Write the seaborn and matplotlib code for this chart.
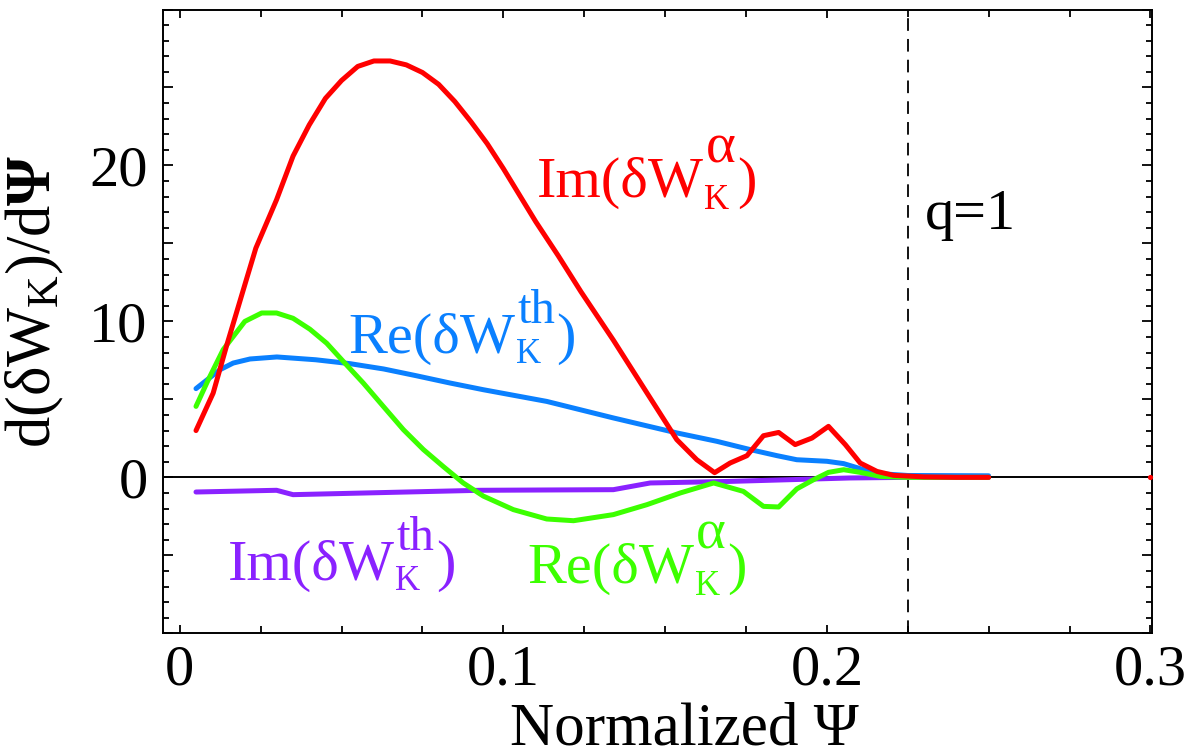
import numpy as np
import pandas as pd
import matplotlib
matplotlib.use("Agg")
import matplotlib.pyplot as plt
from matplotlib.ticker import MultipleLocator, FuncFormatter
import seaborn as sns

# ---------------- data ----------------
im_alpha_x = [0.005, 0.0103, 0.0144, 0.0206, 0.0235, 0.0299, 0.035, 0.040, 0.045, 0.050,
              0.055, 0.060, 0.065, 0.070, 0.075, 0.080, 0.085, 0.090, 0.095, 0.100,
              0.105, 0.110, 0.117, 0.124, 0.134, 0.1444, 0.1536, 0.1598, 0.1653, 0.1701,
              0.1753, 0.1804, 0.1851, 0.1902, 0.1954, 0.2005, 0.2057, 0.2103, 0.2155, 0.2206,
              0.230, 0.240, 0.250]
im_alpha_y = [3.0, 5.4, 8.4, 12.7, 14.7, 17.8, 20.6, 22.6, 24.3, 25.45,
              26.35, 26.7, 26.7, 26.45, 25.96, 25.2, 24.1, 22.8, 21.4, 19.8,
              18.1, 16.4, 14.2, 11.9, 8.8, 5.41, 2.42, 1.13, 0.3, 0.92,
              1.39, 2.67, 2.88, 2.1, 2.52, 3.27, 2.1, 0.92, 0.38, 0.13,
              0.03, 0.0, 0.0]

re_th_x = [0.005, 0.0124, 0.0165, 0.0217, 0.030, 0.042, 0.0526, 0.063, 0.073, 0.0835,
           0.0938, 0.1134, 0.134, 0.1536, 0.166, 0.1763, 0.1846, 0.1907, 0.200, 0.2052,
           0.2114, 0.2176, 0.225, 0.250]
re_th_y = [5.69, 6.9, 7.33, 7.59, 7.72, 7.54, 7.29, 6.95, 6.52, 6.05,
           5.62, 4.87, 3.81, 2.85, 2.31, 1.78, 1.39, 1.13, 1.03, 0.88,
           0.49, 0.22, 0.12, 0.1]

re_alpha_x = [0.005, 0.0088, 0.0134, 0.0201, 0.0253, 0.0299, 0.035, 0.0402, 0.0454, 0.0505,
              0.0567, 0.0629, 0.0691, 0.0753, 0.0814, 0.0876, 0.0938, 0.1031, 0.1134, 0.1217,
              0.134, 0.1444, 0.1547, 0.165, 0.1742, 0.1804, 0.1851, 0.1907, 0.1959, 0.2005,
              0.2052, 0.2103, 0.2165, 0.225, 0.250]
re_alpha_y = [4.55, 6.26, 8.19, 10.0, 10.54, 10.54, 10.2, 9.5, 8.6, 7.44,
              6.05, 4.55, 3.06, 1.78, 0.7, -0.36, -1.2, -2.07, -2.67, -2.78,
              -2.39, -1.75, -1.0, -0.36, -0.9, -1.86, -1.9, -0.74, -0.15, 0.32,
              0.49, 0.32, 0.06, 0.0, 0.0]

im_th_x = [0.005, 0.0299, 0.035, 0.0928, 0.134, 0.1454, 0.170, 0.207, 0.225, 0.250]
im_th_y = [-0.94, -0.83, -1.11, -0.83, -0.79, -0.36, -0.26, -0.04, 0.0, 0.0]

stray_x = [0.3]
stray_y = [0.0]

q1_position = 0.225

series_names = ["Re_th", "Im_th", "Re_alpha", "Im_alpha"]
series_colors = {"Re_th": "#0a80ff", "Im_th": "#8a22ff",
                 "Re_alpha": "#3cff00", "Im_alpha": "#ff0000"}

y_labeled = [0, 10, 20]

# ---------------- styling ----------------
sns.set_style("ticks")
plt.rcParams["font.family"] = ["Liberation Serif", "DejaVu Serif"]
plt.rcParams["mathtext.fontset"] = "custom"
plt.rcParams["mathtext.rm"] = "Liberation Serif"
plt.rcParams["mathtext.it"] = "Liberation Serif"
plt.rcParams["mathtext.bf"] = "Liberation Serif:bold"
plt.rcParams["text.color"] = "black"
plt.rcParams["axes.labelcolor"] = "black"
plt.rcParams["xtick.color"] = "black"
plt.rcParams["ytick.color"] = "black"

FS = 42

df = pd.concat([
    pd.DataFrame({"x": re_th_x, "y": re_th_y, "s": "Re_th"}),
    pd.DataFrame({"x": im_th_x, "y": im_th_y, "s": "Im_th"}),
    pd.DataFrame({"x": re_alpha_x, "y": re_alpha_y, "s": "Re_alpha"}),
    pd.DataFrame({"x": im_alpha_x, "y": im_alpha_y, "s": "Im_alpha"}),
], ignore_index=True)

fig = plt.figure(figsize=(11.95, 7.55), dpi=100)
ax = fig.add_axes([163 / 1195, 1 - 633.3 / 755, (1152 - 163) / 1195, (633.3 - 9.5) / 755])

ax.axhline(0, color="black", lw=1.4, zorder=1)
ax.axvline(q1_position, color="black", lw=1.3, dashes=(7, 4.5), zorder=1)

for i, name in enumerate(series_names):
    sub = df[df["s"] == name]
    sns.lineplot(data=sub, x="x", y="y", ax=ax, color=series_colors[name],
                 linewidth=3.6, sort=False, estimator=None, legend=False, zorder=2 + i)
sns.scatterplot(x=stray_x, y=stray_y, ax=ax, color=series_colors["Im_alpha"], s=14,
                linewidth=0, clip_on=False, zorder=7)

ax.set_xlim(-0.0052, 0.3005)
ax.set_ylim(-10, 30)

ax.xaxis.set_major_locator(MultipleLocator(0.1))
ax.xaxis.set_minor_locator(MultipleLocator(0.025))
ax.xaxis.set_major_formatter(FuncFormatter(lambda v, p: "0" if abs(v) < 1e-9 else f"{v:.1f}"))
ax.yaxis.set_major_locator(MultipleLocator(5))
ax.yaxis.set_minor_locator(MultipleLocator(1))
ax.yaxis.set_major_formatter(FuncFormatter(
    lambda v, p: f"{int(round(v))}" if any(abs(v - t) < 1e-9 for t in y_labeled) else ""))

ax.tick_params(axis="both", which="both", direction="in", top=True, right=True,
               width=1.3, colors="black", labelcolor="black", labelsize=FS)
ax.tick_params(axis="y", which="major", length=7, pad=11)
ax.tick_params(axis="y", which="minor", length=4)
ax.tick_params(axis="x", which="major", length=5.5, pad=8)
ax.tick_params(axis="x", which="minor", length=5)
for sp in ax.spines.values():
    sp.set_linewidth(1.4)
    sp.set_color("black")

ax.set_xlabel("Normalized Ψ", fontsize=44, va="baseline", color="black")
ax.xaxis.set_label_coords(0.527, -0.178)
ax.set_ylabel(r"$\mathrm{d}(\delta W_\mathrm{K})/\mathrm{d}\mathbf{\Psi}$", fontsize=45,
              va="center", color="black")
ax.yaxis.set_label_coords(-0.129, 0.533)


def curve_label(x, y, main, sup, color, sup_size, sup_dy, sub_dy):
    """Main text, stacked K subscript / superscript, closing parenthesis."""
    t_main = ax.text(x, y, main, color=color, fontsize=FS, ha="left", va="baseline")
    ax.annotate("K", xy=(1, y), xycoords=(t_main, "data"), xytext=(0.5, sub_dy),
                textcoords="offset points", color=color, fontsize=25,
                ha="left", va="baseline")
    t_sup = ax.annotate(sup, xy=(1, y), xycoords=(t_main, "data"), xytext=(1.5, sup_dy),
                        textcoords="offset points", color=color, fontsize=sup_size,
                        ha="left", va="baseline")
    ax.annotate(")", xy=(1, y), xycoords=(t_sup, "data"), xytext=(1.0, 0),
                textcoords="offset points", color=color, fontsize=FS,
                ha="left", va="baseline")


curve_label(0.1103, 18.0, "Im(δW", "α", series_colors["Im_alpha"], 41, 24.5, -8.6)
curve_label(0.052, 8.0, "Re(δW", "th", series_colors["Re_th"], 35, 21.0, -7.7)
curve_label(0.0148, -6.56, "Im(δW", "th", series_colors["Im_th"], 35, 21.0, -7.7)
curve_label(0.1073, -6.75, "Re(δW", "α", series_colors["Re_alpha"], 41, 24.5, -8.6)
ax.text(0.2304, 15.9, "q=1", color="black", fontsize=FS, ha="left", va="baseline")

fig.savefig("out.png", dpi=100)
